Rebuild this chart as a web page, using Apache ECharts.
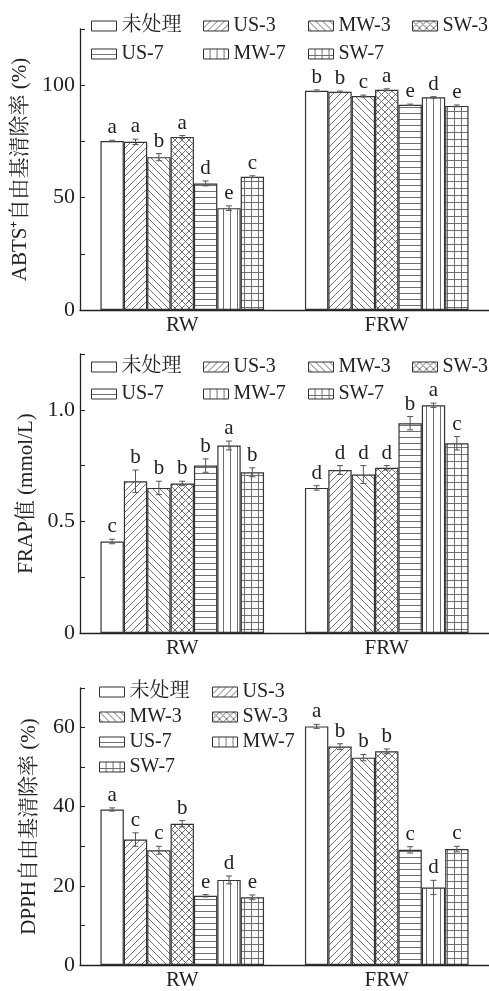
<!DOCTYPE html>
<html>
<head>
<meta charset="utf-8">
<script src="https://cdn.jsdelivr.net/npm/echarts@6/dist/echarts.min.js"></script>
<style>
  html, body { margin: 0; padding: 0; background: #fff; }
  #chart { width: 489px; height: 991px; }
</style>
</head>
<body>
<div id="chart"></div>
<script>
// ---- data ----
const categories = ['RW', 'FRW'];
const treatments = ['未处理', 'US-3', 'MW-3', 'SW-3', 'US-7', 'MW-7', 'SW-7'];

// ABTS+ radical scavenging rate (%), per treatment: [RW, FRW]
const abtsMean = [[75.2, 97.5], [74.8, 97.1], [68.0, 95.2], [77.0, 98.0], [56.3, 91.3], [45.3, 94.6], [59.3, 90.8]];
const abtsErr = [[0.3, 0.4], [1.2, 0.3], [1.6, 0.4], [0.6, 0.4], [1.1, 0.3], [1.0, 0.3], [0.4, 0.4]];
const abtsLetters = [['a', 'b'], ['a', 'b'], ['b', 'c'], ['a', 'a'], ['d', 'e'], ['e', 'd'], ['c', 'e']];

// FRAP value (mmol/L)
const frapMean = [[0.41, 0.65], [0.68, 0.73], [0.65, 0.71], [0.67, 0.74], [0.75, 0.94], [0.84, 1.02], [0.72, 0.85]];
const frapErr = [[0.01, 0.01], [0.05, 0.02], [0.03, 0.04], [0.01, 0.01], [0.03, 0.03], [0.02, 0.01], [0.02, 0.03]];
const frapLetters = [['c', 'd'], ['b', 'd'], ['b', 'd'], ['b', 'd'], ['b', 'b'], ['a', 'a'], ['b', 'c']];

// DPPH radical scavenging rate (%)
const dpphMean = [[39.3, 60.3], [31.7, 55.2], [29.0, 52.4], [35.7, 54.0], [17.5, 29.1], [21.5, 19.6], [17.1, 29.3]];
const dpphErr = [[0.4, 0.5], [1.7, 0.7], [1.0, 0.8], [0.8, 0.6], [0.3, 0.8], [1.0, 1.8], [0.6, 0.7]];
const dpphLetters = [['a', 'a'], ['c', 'b'], ['c', 'b'], ['b', 'b'], ['e', 'c'], ['d', 'd'], ['e', 'c']];

// ---- styling helpers ----
const FONT = '"Liberation Serif", "Times New Roman", "Noto Serif CJK SC", "Noto Sans CJK SC", serif';
const INK = '#222';
const HATCH = '#707070';

function hatch(kind) {
  const s = (kind === '-' ) ? 6 : 7;
  const c = document.createElement('canvas');
  c.width = s; c.height = s;
  const g = c.getContext('2d');
  g.fillStyle = '#fff';
  g.fillRect(0, 0, s, s);
  g.strokeStyle = HATCH;
  g.lineWidth = 1;
  const seg = (x1, y1, x2, y2) => { g.beginPath(); g.moveTo(x1, y1); g.lineTo(x2, y2); g.stroke(); };
  const slash = () => { seg(-1, s + 1, s + 1, -1); seg(-1, 1, 1, -1); seg(s - 1, s + 1, s + 1, s - 1); };
  const back = () => { seg(-1, -1, s + 1, s + 1); seg(s - 1, -1, s + 1, 1); seg(-1, s - 1, 1, s + 1); };
  if (kind === '/') slash();
  if (kind === '\\') back();
  if (kind === 'x') { slash(); back(); }
  if (kind === '-' || kind === '+') seg(0, s - 0.5, s, s - 0.5);
  if (kind === '|' || kind === '+') seg(s - 0.5, 0, s - 0.5, s);
  return { image: c, repeat: 'repeat' };
}
const hatchKinds = ['none', '/', '\\', 'x', '-', '|', '+'];
const fills = hatchKinds.map(hatch);

// ---- panels ----
const panels = [
  { mean: abtsMean, err: abtsErr, letters: abtsLetters, name: 'ABTS⁺自由基清除率 (%)',
    top: 29, height: 281, max: 125, interval: 25,
    fmt: v => (v % 50 === 0 ? String(v) : ''), nameGap: 47 },
  { mean: frapMean, err: frapErr, letters: frapLetters, name: 'FRAP值 (mmol/L)',
    top: 354, height: 279, max: 1.25, interval: 0.25,
    fmt: v => (v === 0 ? '0' : (Math.round(v * 100) % 50 === 0 ? v.toFixed(1) : '')), nameGap: 43 },
  { mean: dpphMean, err: dpphErr, letters: dpphLetters, name: 'DPPH自由基清除率 (%)',
    top: 688, height: 279, max: 70, interval: 10,
    fmt: v => (v % 20 === 0 ? String(v) : ''), nameGap: 40 }
];

const grid = [], xAxis = [], yAxis = [], series = [];

panels.forEach((p, pi) => {
  grid.push({ left: 80, top: p.top, height: p.height, width: 418, containLabel: false });
  xAxis.push({
    type: 'category', gridIndex: pi, data: categories,
    axisLine: { lineStyle: { color: INK, width: 1.3 } },
    axisTick: { show: false },
    axisLabel: { color: INK, fontFamily: FONT, fontSize: 21, margin: 5 }
  });
  yAxis.push({
    type: 'value', gridIndex: pi, min: 0, max: p.max, interval: p.interval,
    name: p.name, nameLocation: 'middle', nameGap: p.nameGap, nameRotate: 90,
    nameTextStyle: { color: INK, fontFamily: FONT, fontSize: 21 },
    axisLine: { show: true, lineStyle: { color: INK, width: 1.3 } },
    axisTick: { show: true, inside: true, length: 5, lineStyle: { color: INK, width: 1 } },
    axisLabel: { color: INK, fontFamily: FONT, fontSize: 22, margin: 5, formatter: p.fmt },
    splitLine: { show: false }
  });

  treatments.forEach((t, si) => {
    series.push({
      type: 'bar', name: t, xAxisIndex: pi, yAxisIndex: pi,
      data: p.mean[si],
      barGap: '0%', barCategoryGap: '20%',
      itemStyle: { color: fills[si], borderColor: '#333', borderWidth: 1.2 },
      emphasis: { disabled: true },
      animation: false
    });
  });

  // error bars and significance letters, positioned by the bar layout of the category band
  const errData = [];
  treatments.forEach((t, si) => {
    categories.forEach((c, ci) => {
      errData.push([ci, si, p.mean[si][ci], p.err[si][ci]]);
    });
  });
  series.push({
    type: 'custom', name: 'err' + pi, xAxisIndex: pi, yAxisIndex: pi,
    data: errData, z: 5, animation: false, silent: true,
    renderItem: (params, api) => {
      const ci = api.value(0), si = api.value(1), v = api.value(2), e = api.value(3);
      const band = api.size([1, 0])[0];
      const bw = band * 0.8 / treatments.length;
      const cx = api.coord([ci, 0])[0] - band * 0.4 + (si + 0.5) * bw;
      const yTop = api.coord([ci, v + e])[1];
      const yBot = api.coord([ci, v - e])[1];
      const cap = 3;
      const ls = { stroke: '#555', lineWidth: 1 };
      return {
        type: 'group',
        children: [
          { type: 'line', shape: { x1: cx, y1: yTop, x2: cx, y2: yBot }, style: ls },
          { type: 'line', shape: { x1: cx - cap, y1: yTop, x2: cx + cap, y2: yTop }, style: ls },
          { type: 'line', shape: { x1: cx - cap, y1: yBot, x2: cx + cap, y2: yBot }, style: ls },
          { type: 'text', style: {
              text: p.letters[si][ci], x: cx, y: yTop - 2,
              textAlign: 'center', textVerticalAlign: 'bottom',
              fontFamily: FONT, fontSize: 21, fill: INK } }
        ]
      };
    }
  });
});

// legends: one vertical legend per column
function legendCol(left, top, names, gap) {
  return {
    left: left, top: top, orient: 'vertical', itemGap: gap,
    itemWidth: 25, itemHeight: 10, selectedMode: false,
    icon: 'rect', data: names,
    itemStyle: { borderColor: '#333', borderWidth: 1 },
    textStyle: { color: INK, fontFamily: FONT, fontSize: 20 }
  };
}
const legend = [
  legendCol(86, 11, ['未处理', 'US-7'], 8),
  legendCol(198, 11, ['US-3', 'MW-7'], 8),
  legendCol(303, 11, ['MW-3', 'SW-7'], 8),
  legendCol(407, 11, ['SW-3'], 8),
  legendCol(86, 352, ['未处理', 'US-7'], 7),
  legendCol(198, 352, ['US-3', 'MW-7'], 7),
  legendCol(303, 352, ['MW-3', 'SW-7'], 7),
  legendCol(407, 352, ['SW-3'], 7),
  legendCol(94, 677, ['未处理', 'MW-3', 'US-7', 'SW-7'], 5),
  legendCol(207, 677, ['US-3', 'SW-3', 'MW-7'], 5)
];

const chart = echarts.init(document.getElementById('chart'), null, { renderer: 'canvas' });
chart.setOption({
  animation: false,
  backgroundColor: '#fff',
  grid, xAxis, yAxis, legend, series
});
</script>
</body>
</html>
